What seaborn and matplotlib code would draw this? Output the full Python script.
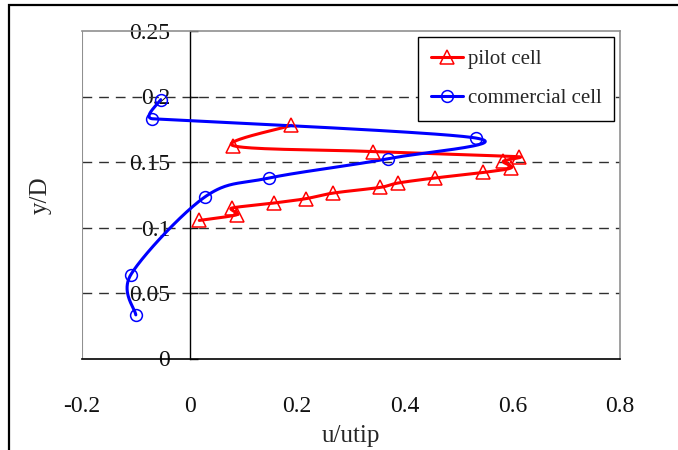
import numpy as np
import matplotlib
matplotlib.use("Agg")
import matplotlib.pyplot as plt
from matplotlib.lines import Line2D
from matplotlib.patches import Rectangle
import seaborn as sns

# ---- data ----
pilot_x = [0.018, 0.0875, 0.078, 0.157, 0.216, 0.267, 0.354, 0.388, 0.456,
           0.546, 0.598, 0.583, 0.612, 0.341, 0.081, 0.189]
pilot_y = [0.1054, 0.1097, 0.1148, 0.1187, 0.1220, 0.1263, 0.1306, 0.1340, 0.1378,
           0.1420, 0.1456, 0.1505, 0.1540, 0.1580, 0.1625, 0.1780]
comm_x = [-0.100, -0.1095, 0.028, 0.148, 0.368, 0.532, -0.0693, -0.0537]
comm_y = [0.0333, 0.0638, 0.1232, 0.1378, 0.1525, 0.1683, 0.1830, 0.1976]
series_names = ["pilot cell", "commercial cell"]
x_ticks = [-0.2, 0, 0.2, 0.4, 0.6, 0.8]
x_tick_labels = ["-0.2", "0", "0.2", "0.4", "0.6", "0.8"]
y_ticks = [0, 0.05, 0.1, 0.15, 0.2, 0.25]
y_tick_labels = ["0", "0.05", "0.1", "0.15", "0.2", "0.25"]

XLIM = (-0.2, 0.8)
YLIM = (0.0, 0.25)
AX_W_PX, AX_H_PX = 538.0, 327.5


def smooth(xs, ys, n=40):
    """Excel-like smoothed line: Catmull-Rom style Bezier segments through the
    points (tangent = (next - prev)/6, computed in pixel space), with the
    control distance capped at half the shorter adjacent chord."""
    sx = AX_W_PX / (XLIM[1] - XLIM[0])
    sy = AX_H_PX / (YLIM[1] - YLIM[0])
    p = np.column_stack([np.asarray(xs) * sx, np.asarray(ys) * sy])
    m = len(p)
    tan = np.zeros_like(p)
    for i in range(m):
        prev = p[i - 1] if i > 0 else p[i]
        nxt = p[i + 1] if i < m - 1 else p[i]
        v = (nxt - prev) / 6.0
        segs_len = []
        if i > 0:
            segs_len.append(np.linalg.norm(p[i] - prev))
        if i < m - 1:
            segs_len.append(np.linalg.norm(nxt - p[i]))
        cap = 0.5 * min(segs_len)
        L = np.linalg.norm(v)
        if L > cap and L > 0:
            v = v * cap / L
        tan[i] = v
    t = np.linspace(0, 1, n)[:, None]
    out = []
    for i in range(m - 1):
        p1, b1, b2, p2 = p[i], p[i] + tan[i], p[i + 1] - tan[i + 1], p[i + 1]
        seg = ((1 - t) ** 3) * p1 + 3 * ((1 - t) ** 2) * t * b1 + 3 * (1 - t) * t ** 2 * b2 + t ** 3 * p2
        out.append(seg if i == 0 else seg[1:])
    s = np.vstack(out)
    return s[:, 0] / sx, s[:, 1] / sy


sns.set_theme(style="white")
plt.rcParams["font.family"] = ["Liberation Serif", "DejaVu Serif"]

fig = plt.figure(figsize=(6.78, 4.5), dpi=100)
ax = fig.add_axes([82 / 678, 1 - 358.5 / 450, AX_W_PX / 678, AX_H_PX / 450])
ax.set_xlim(*XLIM)
ax.set_ylim(*YLIM)

# gridlines
for yv in y_ticks[1:-1]:
    ax.axhline(yv, color="#303030", lw=1.0, ls=(0, (7, 5)), zorder=1)

colors = ["#ff0000", "#0000ff"]
sx_, sy_ = smooth(pilot_x, pilot_y)
sns.lineplot(x=sx_, y=sy_, sort=False, estimator=None, color=colors[0], lw=2.2, ax=ax, zorder=3)
sx_, sy_ = smooth(comm_x, comm_y)
sns.lineplot(x=sx_, y=sy_, sort=False, estimator=None, color=colors[1], lw=2.2, ax=ax, zorder=3)
ax.plot(pilot_x, pilot_y, ls="none", marker="^", ms=10, mfc="none", mec=colors[0], mew=1.1, zorder=4)
ax.plot(comm_x, comm_y, ls="none", marker="o", ms=8.5, mfc="none", mec=colors[1], mew=1.1, zorder=4)

# axes frame
ax.spines["left"].set_position(("data", 0))
ax.spines["left"].set_color("black")
ax.spines["left"].set_linewidth(1.0)
ax.spines["bottom"].set_color("black")
ax.spines["bottom"].set_linewidth(1.2)
for s in ("top", "right"):
    ax.spines[s].set_color("#909090")
    ax.spines[s].set_linewidth(1.2)
ax.axvline(-0.2, color="#909090", lw=1.5, zorder=2)

ax.set_xticks(x_ticks)
ax.set_xticklabels(x_tick_labels)
ax.set_yticks(y_ticks)
ax.set_yticklabels(y_tick_labels)
ax.tick_params(axis="x", length=0, pad=27, labelsize=17, colors="#111111")
ax.tick_params(axis="y", direction="in", length=6, width=1, pad=14, labelsize=17,
               left=True, colors="#111111")

ax.set_xlabel("u/utip", fontsize=18, labelpad=6)
ax.set_ylabel("y/D", fontsize=18, labelpad=0)
ax.yaxis.set_label_coords(-0.056, 0.5)

handles = [
    Line2D([], [], color=colors[0], lw=2.2, marker="^", ms=10, mfc="none", mec=colors[0], mew=1.1),
    Line2D([], [], color=colors[1], lw=2.2, marker="o", ms=8.5, mfc="none", mec=colors[1], mew=1.1),
]
leg = ax.legend(handles, series_names, loc="upper left",
                bbox_to_anchor=((418 - 82) / AX_W_PX, 1 - (37 - 31) / AX_H_PX),
                fontsize=15, frameon=True, fancybox=False, edgecolor="black", framealpha=1,
                handlelength=1.55, handletextpad=0.25, labelspacing=0.95, borderpad=0.6,
                borderaxespad=0)
leg.get_frame().set_linewidth(1.0)

# outer figure border (top and left visible)
fig.patches.append(Rectangle((9 / 678, -0.2), 1.5, 1 - 5 / 450 + 0.2, fill=False, lw=1.6,
                             edgecolor="black", transform=fig.transFigure, figure=fig))

fig.savefig("out.png", dpi=100)
